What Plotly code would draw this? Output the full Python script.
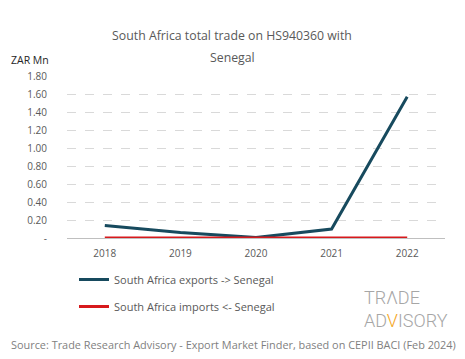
import plotly.graph_objects as go

years = ["2018", "2019", "2020", "2021", "2022"]
exports = [0.14, 0.06, 0.005, 0.10, 1.57]
imports = [0.0, 0.0, 0.0, 0.0, 0.0]
ytick_vals = [0, 0.2, 0.4, 0.6, 0.8, 1.0, 1.2, 1.4, 1.6, 1.8]
ytick_text = ["-", "0.20", "0.40", "0.60", "0.80", "1.00", "1.20", "1.40", "1.60", "1.80"]

# page body has an 8px margin; lay out in window pixels and offset
OFF = 8
W, H = 465 - OFF, 359 - OFF
ML, MT = 67 - OFF, 76 - OFF
MR = W - (445 - OFF)
MB = H - (238 - OFF)
PW, PH = W - ML - MR, H - MT - MB
FONT = "Open Sans"
GREY = "#595959"


def px(x):
    return (x - OFF - ML) / PW


def py(y):
    return (H - MB - (y - OFF)) / PH


fig = go.Figure()
fig.add_trace(go.Scatter(x=years, y=exports, mode="lines", name="South Africa exports -> Senegal",
                         legendgroup="exp", line=dict(color="#174A5E", width=3)))
fig.add_trace(go.Scatter(x=years, y=imports, mode="lines", name="South Africa imports <- Senegal",
                         legendgroup="imp", line=dict(color="#D7191C", width=3)))

fig.update_layout(
    width=W, height=H,
    paper_bgcolor="white", plot_bgcolor="white",
    margin=dict(l=ML, r=MR, t=MT, b=MB, autoexpand=False),
    font=dict(family=FONT, size=10, color=GREY),
    title=dict(text="South Africa total trade on HS940360 with", x=(232 - OFF) / W, xanchor="center",
               xref="container", yref="container", y=1 - (36 - OFF) / H, yanchor="middle",
               font=dict(size=12.3, color=GREY)),
    xaxis=dict(type="category", range=[-0.5, 4.5], showgrid=False, showline=False, ticks="",
               tickfont=dict(size=10, color=GREY), ticklabelstandoff=8),
    yaxis=dict(range=[0, 1.8], tickvals=ytick_vals, ticktext=ytick_text, showgrid=True,
               gridcolor="#D9D9D9", griddash="dash", gridwidth=1, zeroline=True, zerolinecolor="#BFBFBF",
               zerolinewidth=1, ticks="", tickfont=dict(size=10, color=GREY), ticklabelstandoff=19),
    legend=dict(orientation="v", xref="container", yref="container", x=(74 - OFF) / W,
                y=1 - (265 - OFF) / H, xanchor="left", yanchor="top",
                font=dict(size=11, color=GREY), tracegroupgap=8),
    showlegend=True,
)
fig.add_annotation(text="Senegal", xref="paper", yref="paper", x=px(232), y=py(58),
                   xanchor="center", yanchor="middle", showarrow=False, font=dict(size=12.3, color=GREY))
fig.add_annotation(text="ZAR Mn", xref="paper", yref="paper", x=px(9), y=py(60), xanchor="left",
                   yanchor="middle", showarrow=False, font=dict(size=10.5, color="#262626"))
fig.add_annotation(text="TR\u039bDE", xref="paper", yref="paper", x=px(362), y=py(297),
                   xanchor="left", yanchor="middle", showarrow=False,
                   font=dict(size=18, color="#A6A6A6", family="Roboto", weight=300))
fig.add_annotation(text="AD<span style='color:#F5A623'>V</span>ISORY", xref="paper", yref="paper",
                   x=px(362), y=py(320), xanchor="left", yanchor="middle", showarrow=False,
                   font=dict(size=18, color="#A6A6A6", family="Roboto", weight=300))
fig.add_annotation(text="Source: Trade Research Advisory - Export Market Finder, based on CEPII BACI (Feb 2024)",
                   xref="paper", yref="paper", x=px(233), y=py(344), xanchor="center", yanchor="middle",
                   showarrow=False, font=dict(size=10.9, color="#7F7F7F"))
fig.write_html("out.html")
